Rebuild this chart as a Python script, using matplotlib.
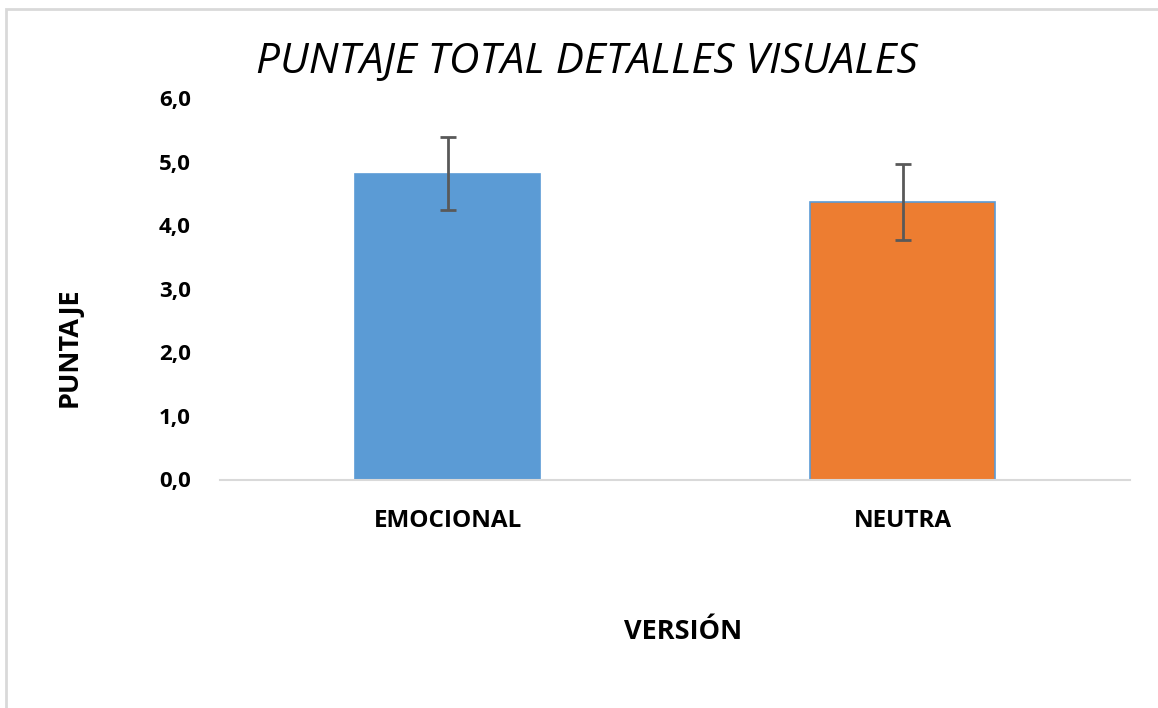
import matplotlib
matplotlib.use("Agg")
import matplotlib.pyplot as plt
from matplotlib.patches import Rectangle

# --- Datos ---
versiones = ["EMOCIONAL", "NEUTRA"]
puntaje = [4.81, 4.36]
error = [0.575, 0.595]
colores = ["#5B9BD5", "#ED7D31"]
y_ticks = [0, 1, 2, 3, 4, 5, 6]
y_labels = ["0,0", "1,0", "2,0", "3,0", "4,0", "5,0", "6,0"]

plt.rcParams["font.family"] = ["Open Sans", "DejaVu Sans"]

fig = plt.figure(figsize=(11.58, 7.08), dpi=100)
ax = fig.add_axes([220 / 1158, 1 - 479.5 / 708, 910 / 1158, (479.5 - 98) / 708])

x = list(range(len(versiones)))
ax.bar(x, puntaje, width=0.405, color=colores, edgecolor="#5B9BD5", linewidth=1.2,
       yerr=error, capsize=5.5,
       error_kw=dict(ecolor="#595959", elinewidth=2, capthick=2))

ax.set_xlim(-0.5, 1.5)
ax.set_ylim(0, 6)
ax.set_yticks(y_ticks)
ax.set_yticklabels(y_labels, fontsize=16, fontweight="bold")
ax.set_xticks(x)
ax.set_xticklabels(versiones, fontsize=17.5, fontweight="bold")
ax.tick_params(axis="both", length=0)
ax.tick_params(axis="y", pad=21)
ax.tick_params(axis="x", pad=21)

for s in ["top", "right", "left"]:
    ax.spines[s].set_visible(False)
ax.spines["bottom"].set_color("#d9d9d9")
ax.spines["bottom"].set_linewidth(1.5)

fig.text(587 / 1158, 1 - 62 / 708, "PUNTAJE TOTAL DETALLES VISUALES",
         fontsize=30.5, style="italic", ha="center", va="center")
fig.text(70 / 1158, 1 - 347 / 708, "PUNTAJE", fontsize=19.5, fontweight="bold",
         rotation=90, ha="center", va="center")
fig.text(683 / 1158, 1 - 632 / 708, "VERSIÓN", fontsize=19.5, fontweight="bold",
         ha="center", va="center")

# marco del gráfico
fig.patches.append(Rectangle((6 / 1158, -0.1), 1.2, 1 - 9 / 708 + 0.1,
                             transform=fig.transFigure, fill=False,
                             edgecolor="#d9d9d9", linewidth=2))

fig.savefig("out.png", dpi=100)
